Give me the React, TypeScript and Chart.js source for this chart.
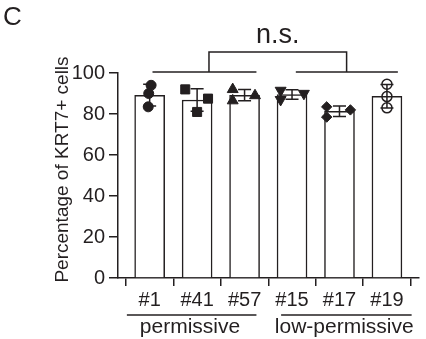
import { useEffect, useRef } from 'react';
import { Chart, registerables } from 'chart.js';

Chart.register(...registerables);

// ---------- data ----------
const categories = ['#1', '#41', '#57', '#15', '#17', '#19'];
const rep1 = [94, 90, 83.5];
const rep41 = [92, 87.5, 81];
const rep57 = [92, 86.5, 89];
const rep15 = [91.5, 87, 90];
const rep17 = [83.5, 78.5, 82];
const rep19 = [94.5, 88.5, 83];
// horizontal scatter of replicate symbols (category units)
const jitter1 = [0.03, -0.02, -0.03];
const jitter41 = [-0.25, 0.23, 0];
const jitter57 = [-0.25, -0.25, 0.22];
const jitter15 = [-0.24, -0.24, 0.25];
const jitter17 = [-0.27, -0.27, 0.23];
const jitter19 = [0, 0, 0];
const groupNames = ['permissive', 'low-permissive'];
const yTicks = [0, 20, 40, 60, 80, 100];
const sigLabel = 'n.s.';
const panelLabel = 'C';
const yTitle = 'Percentage of KRT7+ cells';

const replicates = [rep1, rep41, rep57, rep15, rep17, rep19];
const jitters = [jitter1, jitter41, jitter57, jitter15, jitter17, jitter19];
const markerStyles = ['circle', 'rect', 'triangle', 'triangle', 'rectRot', 'circle'];
const markerRotation = [0, 0, 0, 180, 0, 0];
const markerRadius = [5, 6.4, 6.3, 6.3, 5.2, 5];
const markerFilled = [true, true, true, true, true, false];

const INK = '#231f20';
const FONT = "'Liberation Sans', Arial, Helvetica, sans-serif";

const mean = (a: number[]) => a.reduce((s, v) => s + v, 0) / a.length;
const sd = (a: number[]) => {
  const m = mean(a);
  return Math.sqrt(a.reduce((s, v) => s + (v - m) * (v - m), 0) / (a.length - 1));
};
const means = replicates.map(mean);
const sds = replicates.map(sd);

const annotPlugin = {
  id: 'annot',
  afterDatasetDraw(chart: any, args: any) {
    if (args.index !== 0) return;
    const { ctx, scales } = chart;
    const x = scales.x;
    const y = scales.y;
    ctx.save();
    ctx.strokeStyle = INK;
    ctx.lineWidth = 1.5;
    means.forEach((m, i) => {
      const px = x.getPixelForValue(i);
      const top = y.getPixelForValue(m + sds[i]);
      const bot = y.getPixelForValue(m - sds[i]);
      ctx.beginPath();
      ctx.moveTo(px, top);
      ctx.lineTo(px, bot);
      ctx.moveTo(px - 6.5, top);
      ctx.lineTo(px + 6.5, top);
      ctx.moveTo(px - 6.5, bot);
      ctx.lineTo(px + 6.5, bot);
      ctx.stroke();
    });
    ctx.restore();
  },
  afterDraw(chart: any) {
    const { ctx, scales, chartArea } = chart;
    const x = scales.x;
    const y = scales.y;
    ctx.save();
    ctx.strokeStyle = INK;
    ctx.fillStyle = INK;
    ctx.lineWidth = 1.5;

    // significance bracket
    const yLow = y.getPixelForValue(100.5);
    const yHigh = y.getPixelForValue(110.2);
    const seg = (a: number, b: number, yy: number) => {
      ctx.beginPath();
      ctx.moveTo(x.getPixelForValue(a), yy);
      ctx.lineTo(x.getPixelForValue(b), yy);
      ctx.stroke();
    };
    seg(0.06, 2.25, yLow);
    seg(3.08, 5.23, yLow);
    const bl = x.getPixelForValue(1.25);
    const br = x.getPixelForValue(4.15);
    ctx.beginPath();
    ctx.moveTo(bl, yLow);
    ctx.lineTo(bl, yHigh);
    ctx.lineTo(br, yHigh);
    ctx.lineTo(br, yLow);
    ctx.stroke();
    ctx.font = `27px ${FONT}`;
    ctx.textAlign = 'center';
    ctx.textBaseline = 'alphabetic';
    ctx.fillText(sigLabel, (bl + br) / 2, yHigh - 9.5);

    // group underlines and names
    const gy = chartArea.bottom + 37;
    seg(-0.48, 2.25, gy);
    seg(2.77, 5.52, gy);
    ctx.font = `21px ${FONT}`;
    ctx.fillText(groupNames[0], x.getPixelForValue(0.85), chartArea.bottom + 55);
    ctx.fillText(groupNames[1], x.getPixelForValue(4.1), chartArea.bottom + 55);

    // y title
    ctx.save();
    ctx.translate(68, (chartArea.top + chartArea.bottom) / 2 - 6);
    ctx.rotate(-Math.PI / 2);
    ctx.font = `19px ${FONT}`;
    ctx.textAlign = 'center';
    ctx.fillText(yTitle, 0, 0);
    ctx.restore();

    // panel label
    ctx.font = `26px ${FONT}`;
    ctx.textAlign = 'left';
    ctx.fillText(panelLabel, 3, 25);
    ctx.restore();
  },
};

export default function App() {
  const ref = useRef<HTMLCanvasElement>(null);
  useEffect(() => {
    const scatterSets = replicates.map((rep, i) => ({
      type: 'scatter' as const,
      order: 0,
      data: rep.map((v, k) => ({ x: i + jitters[i][k], y: v })),
      pointStyle: markerStyles[i],
      rotation: markerRotation[i],
      pointRadius: markerRadius[i],
      pointHoverRadius: markerRadius[i],
      backgroundColor: markerFilled[i] ? INK : 'rgba(0,0,0,0)',
      borderColor: INK,
      borderWidth: markerFilled[i] ? 1 : 1.5,
      showLine: false,
    }));
    const chart = new Chart(ref.current as HTMLCanvasElement, {
      type: 'bar',
      data: {
        datasets: [
          {
            type: 'bar' as const,
            order: 1,
            data: means.map((m, i) => ({ x: i, y: m })),
            backgroundColor: '#ffffff',
            borderColor: INK,
            borderWidth: 1.5,
            barThickness: 30,
          } as any,
          ...(scatterSets as any[]),
        ],
      },
      options: {
        animation: false,
        responsive: false,
        devicePixelRatio: 1,
        layout: { padding: { left: 0, top: 73, right: 3, bottom: 0 } },
        plugins: { legend: { display: false }, tooltip: { enabled: false } },
        scales: {
          x: {
            type: 'linear',
            min: -0.667,
            max: 5.667,
            offset: false,
            afterBuildTicks: (scale: any) => {
              scale.ticks = categories.map((_, i) => ({ value: i }));
            },
            afterFit: (scale: any) => {
              scale.height = 61;
            },
            ticks: {
              callback: (v: any) => categories[Math.round(Number(v))] ?? '',
              font: { family: FONT, size: 20 },
              color: INK,
              padding: 2,
              maxRotation: 0,
              autoSkip: false,
            },
            grid: {
              display: true,
              drawOnChartArea: false,
              drawTicks: true,
              tickLength: 8,
              tickColor: INK,
              tickWidth: 1.5,
              color: INK,
              lineWidth: 1.5,
            },
            border: { display: true, color: INK, width: 1.5 },
          },
          y: {
            type: 'linear',
            min: 0,
            max: 100,
            afterBuildTicks: (scale: any) => {
              scale.ticks = yTicks.map((v) => ({ value: v }));
            },
            afterFit: (scale: any) => {
              scale.width = 118;
            },
            ticks: {
              font: { family: FONT, size: 20 },
              color: INK,
              padding: 4,
            },
            grid: {
              display: true,
              drawOnChartArea: false,
              drawTicks: true,
              tickLength: 9,
              tickColor: INK,
              tickWidth: 1.5,
              color: INK,
              lineWidth: 1.5,
            },
            border: { display: true, color: INK, width: 1.5 },
          },
        },
      } as any,
      plugins: [annotPlugin],
    });
    return () => chart.destroy();
  }, []);
  return (
    <div style={{ position: 'fixed', left: 0, top: 0, width: 426, height: 339, background: '#ffffff' }}>
      <canvas ref={ref} width={426} height={339} style={{ display: 'block', width: 426, height: 339 }} />
    </div>
  );
}
